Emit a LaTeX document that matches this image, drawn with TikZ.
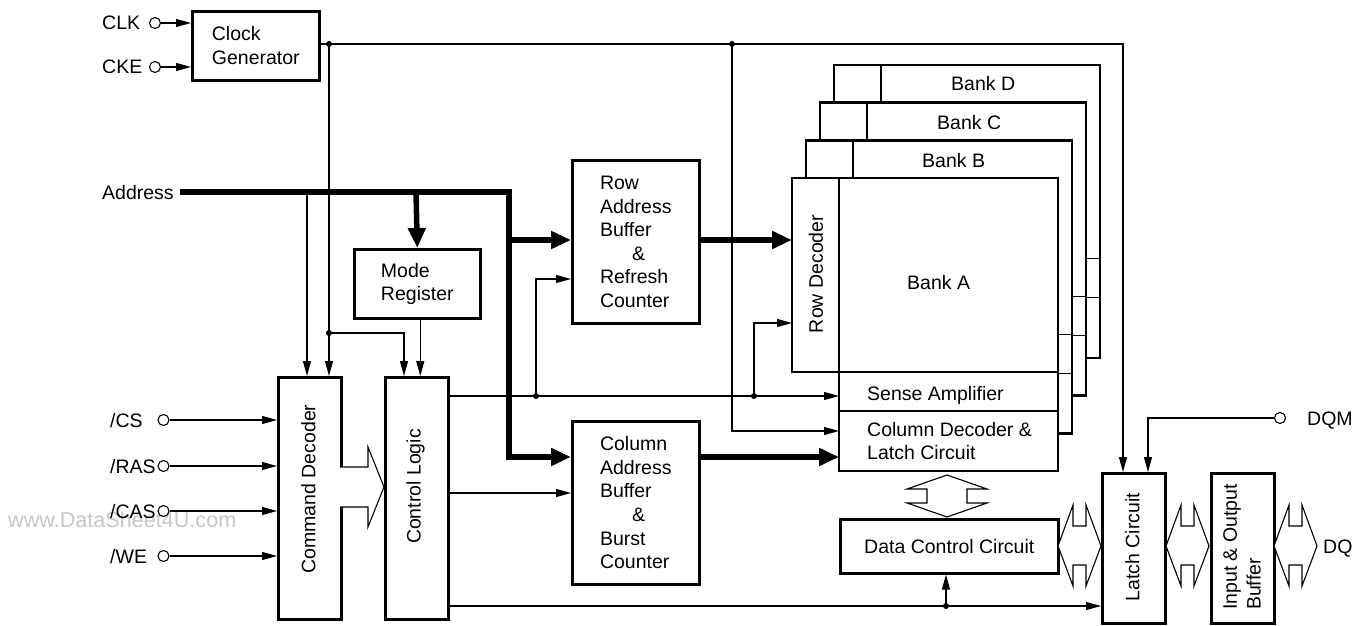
\documentclass[tikz,border=0pt]{standalone}
\usepackage{fontspec}
\setmainfont{Liberation Sans}
\usetikzlibrary{arrows.meta}
\begin{document}
\begin{tikzpicture}[x=1pt,y=-1pt, font=\fontsize{19.5}{23.6}\selectfont, line join=miter,
 thinl/.style={line width=1.1pt},
 box/.style={draw, line width=2.6pt, fill=white, inner sep=0pt, anchor=north west},
 arr/.style={thinl, -{Triangle[length=15pt,width=8pt]}},
 busl/.style={line width=5.5pt},
 busarr/.style={busl, -{Triangle[length=20pt,width=17pt]}},
 dot/.style={circle, fill, inner sep=0pt, minimum size=6pt},
 pinc/.style={circle, draw, thinl, fill=white, inner sep=0pt, minimum size=11pt},
 lbl/.style={anchor=base west, inner sep=0pt},
 hollow/.style={thinl, fill=white},
 anch/.style={inner sep=0pt, anchor=north west}
]
\useasboundingbox (0,0) rectangle (1366,626);
% watermark
\node[lbl, text=black!22, font=\fontsize{21.6}{24}\selectfont] (wm) at (8,527) {www.DataSheet4U.com};

% ---- banks (back to front)
\foreach \i in {3,2,1,0}{
 \begin{scope}[shift={(14*\i,-37.7*\i)}]
  \draw[line width=2.6pt, fill=white] (792,178) -- (1058,178) -- (1058,471) -- (839,471) -- (839,372) -- (792,372) -- cycle;
  \draw[thinl] (839,178) -- (839,372) -- (1058,372) (839,411) -- (1058,411);
 \end{scope}
}
\node[anch, minimum width=47pt, minimum height=194pt] (rowdec) at (792,178) {};
\node[anch, minimum width=219pt, minimum height=39pt] (sense) at (839,372) {};
\node[anch, minimum width=219pt, minimum height=60pt] (coldec) at (839,411) {};
\node[rotate=90] (rowdecT) at (816,274) {Row Decoder};
\node[lbl] (bankD) at (951,90) {Bank D};
\node[lbl] (bankC) at (937,129) {Bank C};
\node[lbl] (bankB) at (922,167) {Bank B};
\node[lbl] (bankA) at (907,289) {Bank A};
\node[lbl] (senseT) at (867,400) {Sense Amplifier};
\node[anchor=west, inner sep=0pt, align=left] (coldecT) at (867,441) {Column Decoder \&\\Latch Circuit};

% ---- boxes
\node[box, minimum width=127pt, minimum height=69pt, align=left] (cg) at (191,10) {Clock\\Generator};
\node[box, minimum width=126pt, minimum height=69pt, align=left] (mr) at (353,248) {Mode\\Register};
\node[box, minimum width=127pt, minimum height=163pt, align=left] (rab) at (571,159) {Row\\Address\\Buffer\\\hspace*{32pt}\&\\Refresh\\Counter};
\node[box, minimum width=127pt, minimum height=163pt, align=left] (cab) at (571,420) {Column\\Address\\Buffer\\\hspace*{32pt}\&\\Burst\\Counter};
\node[box, minimum width=63pt, minimum height=242pt] (cmd) at (277,376) {};
\node[box, minimum width=63pt, minimum height=242pt] (ctl) at (384,376) {};
\node[box, minimum width=218pt, minimum height=54pt] (dc) at (839,518) {Data Control Circuit};
\node[box, minimum width=63pt, minimum height=150pt] (latch) at (1101,472) {};
\node[box, minimum width=63pt, minimum height=150pt] (iob) at (1210,472) {};
\node[rotate=90] (cmdT) at (308.5,489) {Command Decoder};
\node[rotate=90] (ctlT) at (415.5,486.5) {Control Logic};
\node[rotate=90] (latchT) at (1132.5,547) {Latch Circuit};
\node[rotate=90, align=left] (iobT) at (1242,547) {Input \& Output\\Buffer};

% ---- clock inputs
\node[lbl] (clkL) at (102,30) {CLK};
\node[lbl] (ckeL) at (102,74) {CKE};
\node[pinc] (clk) at (155,23) {};
\node[pinc] (cke) at (155,67) {};
\draw[arr] (clk) -- (clk -| cg.west);
\draw[arr] (cke) -- (cke -| cg.west);

% ---- command inputs
\node[lbl] (csL) at (110,427) {/CS};
\node[lbl] (rasL) at (110,473) {/RAS};
\node[lbl] (casL) at (110,518) {/CAS};
\node[lbl] (weL) at (110,563) {/WE};
\node[pinc] (cs) at (163.5,420) {};
\node[pinc] (ras) at (163.5,466) {};
\node[pinc] (cas) at (163.5,511) {};
\node[pinc] (we) at (163.5,556) {};
\foreach \p in {cs,ras,cas,we} \draw[arr] (\p) -- (\p -| cmd.west);

% ---- clock distribution
\coordinate (ck1) at (329,44);
\coordinate (ck2) at (732,44);
\coordinate (ck3) at (1123,44);
\coordinate (ck4) at (329,333);
\coordinate (cl1) at (404,333);
\coordinate (cd1) at (732,431);
\draw[arr] (cg.east |- ck1) -- (ck3) -- (ck3 |- latch.north);
\draw[arr] (ck1) -- (ck1 |- cmd.north);
\draw[arr] (ck4) -- (cl1) -- (cl1 |- ctl.north);
\draw[arr] (ck2) -- (cd1) -- (cd1 -| coldec.west);

% ---- address to command decoder
\coordinate (ba) at (307,192);
\draw[arr] (ba) -- (ba |- cmd.north);
% mode register to control logic
\draw[arr] ([xshift=3pt]mr.south) -- ([xshift=3pt]mr.south |- ctl.north);

% ---- control logic outputs
\coordinate (s1) at (536,396);
\coordinate (s2) at (754,396);
\coordinate (r1) at (536,279);
\coordinate (r2) at (754,323);
\coordinate (c1) at (0,493);
\coordinate (bt) at (946,606);
\draw[arr] (ctl.east |- s1) -- (sense.west |- s1);
\draw[arr] (s1) -- (r1) -- (r1 -| rab.west);
\draw[arr] (s2) -- (r2) -- (r2 -| rowdec.west);
\draw[arr] (ctl.east |- c1) -- (cab.west |- c1);
\draw[arr] (ctl.east |- bt) -- (bt -| latch.west);
\draw[arr] (bt) -- (bt |- dc.south);

% ---- DQM
\node[pinc] (dqm) at (1280,418) {};
\node[lbl] (dqmL) at (1307,425) {DQM};
\coordinate (q1) at (1148,418);
\draw[arr] (dqm) -- (q1) -- (q1 |- latch.north);

% ---- address bus
\node[lbl] (addrL) at (102,199) {Address};
\coordinate (b0) at (180,192);
\coordinate (b1) at (509,192);
\coordinate (b2) at (509,457);
\coordinate (bm) at (416,192);
\coordinate (br) at (509,240);
\draw[busarr] (b0) -- (b1) -- (b2) -- (b2 -| cab.west);
\draw[busarr] (bm) -- (mr.north);
\draw[busarr] (br) -- (br -| rab.west);
\draw[busarr] (rab.east |- br) -- (rowdec.west |- br);
\draw[busarr] (cab.east |- b2) -- (coldec.west |- b2);

% ---- dots
\foreach \d in {ck1,ck2,ck4,s1,s2,bt} \node[dot] at (\d) {};

% ---- hollow arrows
\draw[hollow] (340,467) -- (368,467) -- (368,447) -- (384,487) -- (368,527) -- (368,507) -- (340,507);
\draw[hollow] (947,475) -- (987,489) -- (967,489) -- (967,503) -- (987,503) -- (947,517) -- (907,503) -- (927,503) -- (927,489) -- (907,489) -- cycle;
\foreach \L in {1058,1166,1274}
 \draw[hollow] (\L,546) -- (\L+15,505) -- (\L+15,526) -- (\L+28,526) -- (\L+28,505) -- (\L+43,546) -- (\L+28,586) -- (\L+28,565) -- (\L+15,565) -- (\L+15,586) -- cycle;
\node[lbl] (dqL) at (1323,553) {DQ};
\end{tikzpicture}
\end{document}
